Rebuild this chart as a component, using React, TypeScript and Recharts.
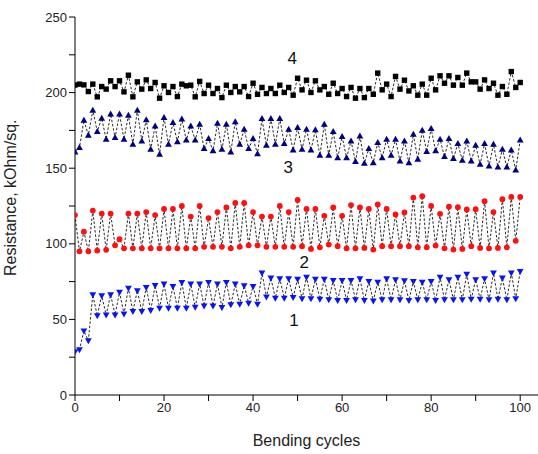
import React from "react";
import { LineChart, Line, XAxis, YAxis, ReferenceDot } from "recharts";

// bending cycle numbers, one reading per cycle
const cycles = Array.from({ length: 101 }, (_, i) => i);

// curve 1, blue down-triangles
const curve1 = [
  28.7, 30, 42.4, 36, 66.3, 52.5, 65.7, 53, 66.3, 53, 68.1, 53.7, 70.7, 55.3, 69, 55.3, 71.2, 55.9, 72.5, 57.5,
  73.4, 57.5, 71.8, 57.5, 74.5, 57.5, 73.4, 58.1, 73.4, 59, 74.5, 59, 73.4, 58, 74.5, 59.7, 73.4, 60.1, 72.3, 60.8,
  71.8, 60.1, 80.7, 64.8, 77.4, 64.1, 77, 64.1, 77, 64.6, 76.7, 63.7, 78, 63.7, 76.7, 63.4, 76.7, 63, 75.8, 62.6,
  75.8, 62.6, 75.8, 63, 76.9, 62.6, 75.1, 62.3, 74.7, 63, 76.9, 63, 76.3, 63, 75.6, 62.6, 75.1, 63, 74.7, 63,
  75.1, 62.6, 78, 63, 76.3, 63, 78, 63, 80, 63.4, 76.3, 63.4, 76.9, 63, 80.7, 63.4, 77.4, 63, 80.7, 63.7, 81.8,
];

// curve 2, red circles
const curve2 = [
  119, 95, 108, 95, 122, 95.5, 120, 96, 120, 99, 103, 97, 120, 97, 120, 97, 121, 97, 119, 97,
  123, 97, 123, 97, 125, 97, 118, 97, 125, 98, 117, 98, 121, 98, 124, 97, 127, 98, 127, 99,
  121, 99, 118, 98, 118, 98, 125, 98, 121, 98, 129, 98.4, 123, 96.6, 123, 97.7, 118.5, 99.5, 124, 98.4,
  118.5, 97, 125.6, 97, 124, 97.3, 123, 96.2, 126, 98.4, 123, 98.4, 119.4, 98.4, 120.7, 98.4, 130.6, 97.7, 131.5, 97.7,
  125, 98.8, 119.8, 97, 124.5, 96.2, 124.2, 96.6, 122.7, 98.4, 122.9, 97.3, 128.2, 97, 121, 97.3, 129.5, 97.7, 131, 102, 131,
];

// curve 3, navy up-triangles
const curve3 = [
  160.7, 163.6, 181.7, 171.8, 188.3, 174.2, 183, 169.1, 185.7, 170.2, 185.7, 169.1, 185, 165.8, 188.3, 168, 181.9, 162.5, 177.9, 159.2,
  183.5, 165.8, 180.2, 167.4, 182.4, 168.6, 177.9, 168.6, 179, 162.9, 169.5, 161.4, 179.7, 162.5, 179, 160.7, 180.6, 165.8, 175.7, 162.9,
  169.5, 159.5, 182.8, 165.1, 182.8, 165.8, 182.8, 166.2, 175.7, 162, 176.8, 162.5, 175.7, 162, 175.3, 158.5, 179, 158.5, 174.2, 156.9,
  170.9, 156.9, 168, 154.3, 171.3, 153.2, 162.9, 153.6, 166.9, 156.9, 169.1, 158.5, 169.1, 154.7, 168, 153.6, 172.4, 155.8, 175.1, 160.9,
  176.2, 161.4, 169.1, 157.6, 169.5, 156.3, 166.2, 155.2, 168, 154.7, 165.1, 152.5, 166.2, 151.4, 165.8, 150.7, 162.5, 150.7, 162, 148.8, 168.6,
];

// curve 4, black squares
const curve4 = [
  205, 205.6, 205.1, 200.7, 205.6, 197.2, 204, 202.3, 207.8, 204, 207.8, 200.5, 211.5, 197.2, 207.1, 202.3, 208.4, 202.7, 206.7, 196.3,
  204.5, 200.1, 204, 197.4, 205.6, 204.5, 204.9, 197.2, 207.4, 199.4, 204.9, 199.4, 202.7, 196.7, 204.9, 200.1, 204, 200.5, 204, 197.4,
  206.2, 198.9, 203.4, 199.4, 202.7, 199.4, 204.9, 200.1, 203.4, 198.3, 209.5, 201.8, 208.2, 200.1, 207.8, 201.8, 204, 198.9, 206.2, 199.4,
  202.7, 197.4, 203.4, 196.3, 202.7, 196.7, 202.7, 198.9, 212.9, 201.8, 205.6, 197.4, 210.7, 202.3, 208.2, 201.1, 204.5, 198.3, 205.6, 198.3,
  209.5, 201.8, 211.1, 206.2, 211.1, 204.9, 210, 204.9, 212.9, 207.1, 207.1, 202.3, 208.4, 202.7, 206.2, 198.3, 204, 198.9, 213.9, 203.4, 206.7,
];

const xTicks = [0, 10, 20, 30, 40, 50, 60, 70, 80, 90, 100];
const yTicks = [0, 25, 50, 75, 100, 125, 150, 175, 200, 225, 250];

// curve numbers written next to each curve
const curveNames = ["1", "2", "3", "4"];
const curveNameX = [49.2, 51.5, 47.9, 48.8];
const curveNameY = [49.6, 88, 150.8, 222.9];

const data = cycles.map((c, i) => ({
  cycle: c,
  s1: curve1[i],
  s2: curve2[i],
  s3: curve3[i],
  s4: curve4[i],
}));

const font = "'Liberation Sans', Arial, sans-serif";

const Square = (p: any) => (
  <rect key={p.index} x={p.cx - 2.7} y={p.cy - 2.7} width={5.4} height={5.4} fill="#000" />
);
const TriUp = (p: any) => (
  <path key={p.index} d={`M${p.cx},${p.cy - 3.6}L${p.cx + 3.4},${p.cy + 2.4}L${p.cx - 3.4},${p.cy + 2.4}Z`} fill="#000080" />
);
const Circle = (p: any) => <circle key={p.index} cx={p.cx} cy={p.cy} r={2.9} fill="#ff1010" />;
const TriDown = (p: any) => (
  <path key={p.index} d={`M${p.cx - 3.4},${p.cy - 2.4}L${p.cx + 3.4},${p.cy - 2.4}L${p.cx},${p.cy + 3.6}Z`} fill="#0a14f0" />
);

export default function App() {
  const lineProps = {
    type: "linear" as const,
    stroke: "#111",
    strokeWidth: 0.9,
    strokeDasharray: "2.5 1.8",
    activeDot: false,
    isAnimationActive: false,
  };
  return (
    <div style={{ position: "absolute", left: 0, top: 0, background: "#fff" }}>
      <LineChart width={538} height={454} data={data} margin={{ top: 17, right: 0, left: 0, bottom: 0 }}>
        <XAxis
          dataKey="cycle"
          type="number"
          domain={[0, 104]}
          ticks={xTicks}
          interval={0}
          height={59}
          tickSize={6}
          stroke="#000"
          tick={{ fill: "#222", fontSize: 13, fontFamily: font }}
          tickFormatter={(v: number) => (v % 20 === 0 ? String(v) : "")}
          allowDataOverflow
          label={{ value: "Bending cycles", position: "insideBottom", offset: 8, fontSize: 16, fontFamily: font, fill: "#222" }}
        />
        <YAxis
          type="number"
          domain={[0, 250]}
          ticks={yTicks}
          interval={0}
          width={75}
          tickSize={6}
          stroke="#000"
          tick={{ fill: "#222", fontSize: 13, fontFamily: font }}
          tickFormatter={(v: number) => (v % 50 === 0 ? String(v) : "")}
          label={{ value: "Resistance, kOhm/sq.", angle: -90, position: "insideLeft", offset: 10, dy: 70, fontSize: 16, fontFamily: font, fill: "#222" }}
        />
        <Line dataKey="s4" {...lineProps} dot={Square} />
        <Line dataKey="s3" {...lineProps} dot={TriUp} />
        <Line dataKey="s2" {...lineProps} dot={Circle} />
        <Line dataKey="s1" {...lineProps} dot={TriDown} />
        {curveNames.map((n, i) => (
          <ReferenceDot
            key={n}
            x={curveNameX[i]}
            y={curveNameY[i]}
            r={0}
            stroke="none"
            fill="none"
            label={{ value: n, position: "center", fontSize: 17, fontFamily: font, fill: "#111" }}
          />
        ))}
      </LineChart>
    </div>
  );
}
